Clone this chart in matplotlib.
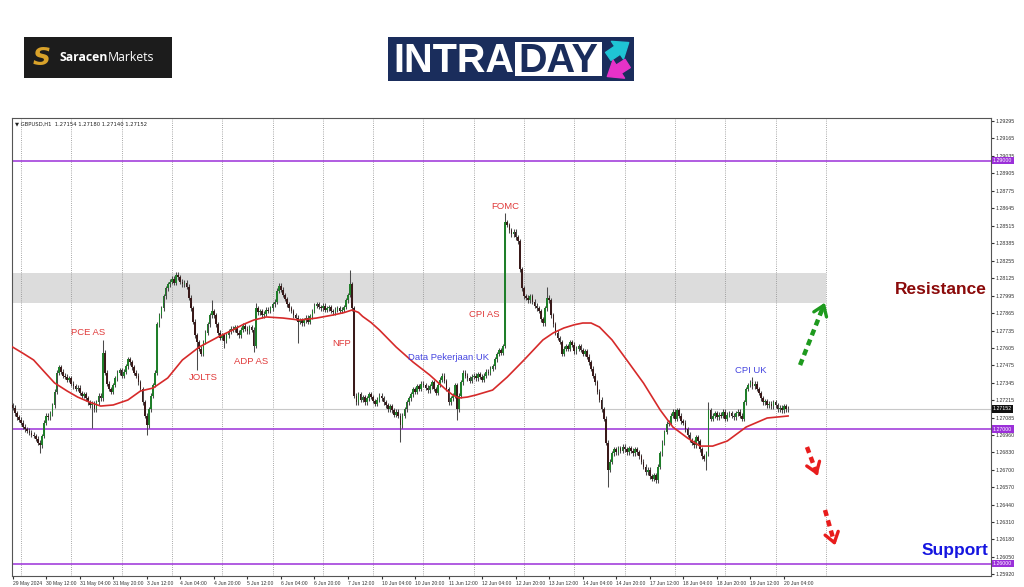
import numpy as np
import matplotlib
matplotlib.use("Agg")
import matplotlib.pyplot as plt
from matplotlib.patches import Rectangle, FancyArrowPatch

# ---- data ----
symbol_header = "\u25BC GBPUSD,H1  1.27154 1.27180 1.27140 1.27152"

# hourly closes in points above 1.26000 (1 point = 0.00001), bar 0 = 29 May 20:00
closes_pts = [
    1160, 1120, 1090, 1070,                                            # 0-3
    1050, 1020, 1000, 990, 975, 960, 950, 930, 900,                    # 4-12
    880,                                                               # 13
    950, 1050, 1100, 1090, 1120,                                       # 14-18
    1180, 1280, 1420, 1460, 1430, 1400,                                # 19-24
    1390, 1370, 1380, 1340, 1320, 1300, 1310, 1270, 1250, 1260, 1230, 1200, 1180, 1190,  # 25-38
    1150, 1200, 1250, 1230,                                            # 39-42
    1570,                                                              # 43 PCE
    1420, 1340, 1300, 1280, 1330,                                      # 44-48
    1380, 1420, 1440, 1400, 1430, 1470,                                # 49-54
    1520, 1500,                                                        # 55-56
    1460, 1420, 1400, 1350, 1300, 1200, 1100,                          # 57-63
    1030,                                                              # 64
    1150, 1250, 1330, 1420, 1780,                                      # 65-69
    1850, 1900, 1990, 2050, 2080, 2100, 2120, 2090,                    # 70-77
    2150, 2130, 2100, 2080, 2090, 2060,                                # 78-83
    1980, 1900, 1800, 1700, 1650, 1600, 1560,                          # 84-90
    1650, 1720, 1780, 1850, 1880, 1850,                                # 91-96
    1780, 1720, 1680, 1700, 1660,                                      # 97-101
    1700, 1730, 1750, 1740, 1760, 1720, 1700, 1740, 1770, 1750, 1730, 1760, 1740,  # 102-114
    1620, 1900,                                                        # 115-116 ADP
    1870, 1880, 1850, 1860, 1890, 1880, 1900, 1930, 1950,              # 117-125
    2030, 2070, 2040,                                                  # 126-128
    2000, 1970, 1930, 1900, 1880, 1850, 1830, 1800, 1810,              # 129-137
    1790, 1810, 1830, 1800, 1840, 1880,                                # 138-143
    1920, 1930, 1910, 1900, 1920, 1890, 1900, 1910, 1880, 1870, 1890, 1900, 1880, 1890, 1910,  # 144-158
    1960, 2000, 2080,                                                  # 159-161
    1900, 1250, 1200,                                                  # 162-164 NFP
    1260, 1220, 1240, 1200, 1230, 1260, 1240, 1210, 1190, 1220,
    1250, 1230, 1200, 1180, 1150, 1170, 1140, 1110, 1130, 1100,        # 165-184
    1030,                                                              # 185
    1100, 1150, 1200, 1230, 1260, 1300, 1280, 1320, 1300, 1340, 1330, 1310, 1290,  # 186-198
    1320, 1350, 1300, 1270, 1330, 1370, 1400, 1360, 1300,              # 199-207
    1200, 1230, 1250,                                                  # 208-210
    1330, 1150,                                                        # 211-212
    1250, 1350, 1420, 1400, 1380, 1360, 1390,                          # 213-219
    1400, 1380, 1410, 1390, 1370, 1400, 1430, 1420, 1450, 1470,        # 220-229
    1520, 1560, 1590, 1570,                                            # 230-233
    1620, 2540,                                                        # 234-235 CPI AS
    2520, 2480, 2450, 2470, 2430, 2400,                                # 236-241
    2190, 2050, 1990,                                                  # 242-244 FOMC
    1980, 1960, 1990, 1950, 1920, 1900, 1880,                          # 245-251
    1820, 1790,                                                        # 252-253
    1900, 1980, 1960,                                                  # 254-256
    1850, 1780, 1720, 1680, 1650,                                      # 257-261
    1560, 1600,                                                        # 262-263
    1620, 1600, 1650, 1630, 1580, 1600, 1620, 1590, 1560, 1580, 1540, 1500,  # 264-275
    1450, 1400, 1350, 1280, 1220, 1150, 1080,                          # 276-282
    900, 700,                                                          # 283-284
    760, 820, 850, 830, 860, 840, 870, 850, 830, 860, 840, 820, 850, 830, 800,  # 285-299
    760, 720, 680, 700, 650, 630, 660, 620,                            # 300-307
    720, 820, 900, 980, 1040, 1050,                                    # 308-313
    1100, 1130, 1080, 1140, 1100, 1060, 1050,                          # 314-320
    1000, 960, 920, 900, 880, 940, 910,                                # 321-327
    850, 800, 780, 820,                                                # 328-331
    1140,                                                              # 332
    1080, 1100, 1120, 1090, 1110, 1100, 1130, 1080,
    1110, 1120, 1100, 1090, 1120, 1130, 1100, 1080,                    # 333-348
    1200, 1300, 1330,                                                  # 349-351 CPI UK
    1350, 1320, 1340, 1300, 1270,                                      # 352-356
    1230, 1200, 1210, 1180, 1190,                                      # 357-361
    1170, 1200, 1180, 1150, 1160, 1140, 1170, 1150, 1152,              # 362-370
]
first_open_pts = 1180
wick_pts = 18
spike_highs = {0: 1185, 43: 1665, 78: 2170, 95: 1962, 116: 1940, 127: 2090,
               161: 2186, 235: 2610, 255: 2060, 332: 1203, 353: 1390}
spike_lows = {13: 823, 38: 1010, 64: 957, 88: 1441, 101: 1605, 115: 1575,
              136: 1642, 185: 905, 212: 1069, 284: 570, 307: 600, 331: 697}

# red moving average, sampled along the line
ma_bars = [0, 5, 10, 15, 20, 26, 31, 37, 42, 48, 55, 61, 67, 74, 81, 89, 98, 105,
           110, 115, 121, 129, 137, 145, 153, 158, 162, 165, 167, 171, 175, 183,
           191, 199, 207, 210, 213, 217, 221, 229, 236, 244, 253, 258, 263, 268,
           272, 276, 280, 286, 293, 301, 309, 315, 322, 328, 334, 341, 350, 360, 370]
ma_pts = [1612, 1565, 1516, 1430, 1345, 1285, 1240, 1200, 1173, 1181, 1218, 1285,
          1307, 1382, 1516, 1612, 1687, 1739, 1780, 1813, 1836, 1828, 1813, 1828,
          1851, 1868, 1888, 1870, 1840, 1795, 1739, 1612, 1501, 1404, 1292, 1255,
          1233, 1240, 1255, 1292, 1389, 1516, 1665, 1718, 1754, 1778, 1791, 1791,
          1761, 1665, 1516, 1344, 1143, 1017, 935, 875, 875, 913, 1017, 1084, 1099]

zone_low, zone_high = 1.2794, 1.2816
zone_end_bar = 388
levels = [1.29000, 1.27000, 1.26000]
last_price = 1.27152

ytick_values = [1.29295, 1.29165, 1.29035, 1.28905, 1.28775, 1.28645, 1.28515,
                1.28385, 1.28255, 1.28125, 1.27995, 1.27865, 1.27735, 1.27605,
                1.27475, 1.27345, 1.27215, 1.27085, 1.26960, 1.26830, 1.26700,
                1.26570, 1.26440, 1.26310, 1.26180, 1.26050, 1.25920]
xtick_labels = ["29 May 2024", "30 May 12:00", "31 May 04:00", "31 May 20:00",
                "3 Jun 12:00", "4 Jun 04:00", "4 Jun 20:00", "5 Jun 12:00",
                "6 Jun 04:00", "6 Jun 20:00", "7 Jun 12:00", "10 Jun 04:00",
                "10 Jun 20:00", "11 Jun 12:00", "12 Jun 04:00", "12 Jun 20:00",
                "13 Jun 12:00", "14 Jun 04:00", "14 Jun 20:00", "17 Jun 12:00",
                "18 Jun 04:00", "18 Jun 20:00", "19 Jun 12:00", "20 Jun 04:00"]

# event labels: (text, bar, price, colour)
events = [("PCE AS", 36, 1.27724, "#E03A3A"),
          ("JOLTS", 91, 1.27382, "#E03A3A"),
          ("ADP AS", 114, 1.27508, "#E03A3A"),
          ("NFP", 157, 1.27635, "#E03A3A"),
          ("FOMC", 235, 1.28655, "#E03A3A"),
          ("CPI AS", 225, 1.27858, "#E03A3A"),
          ("Data Pekerjaan UK", 208, 1.27538, "#4646E0"),
          ("CPI UK", 352, 1.27434, "#4646E0")]

# projection arrows: (bar0, price0, bar1, price1, colour)
arrows = [(375.7, 1.27478, 388.0, 1.27962, "#1E9A1E"),
          (379.0, 1.26868, 384.5, 1.26637, "#E81C1C"),
          (387.6, 1.26399, 392.8, 1.26116, "#E81C1C")]

# ---- figure ----
fig = plt.figure(figsize=(10.24, 5.87), dpi=100)
fig.patch.set_facecolor("white")

def fx(px):
    return px / 1024

def fy(py):
    return 1 - py / 587

ax = fig.add_axes([fx(12), fy(576), fx(991) - fx(12), fy(118) - fy(576)])
ax.set_facecolor("white")

closes = 1.26 + np.array(closes_pts) / 1e5
opens = np.r_[1.26 + first_open_pts / 1e5, closes[:-1]]
wick = wick_pts / 1e5
highs = np.maximum(opens, closes) + wick
lows = np.minimum(opens, closes) - wick
for b, v in spike_highs.items():
    highs[b] = max(highs[b], 1.26 + v / 1e5)
for b, v in spike_lows.items():
    lows[b] = min(lows[b], 1.26 + v / 1e5)
x = np.arange(len(closes))

# resistance zone
ax.fill_between([-1, zone_end_bar], zone_low, zone_high, color="#DCDCDC", lw=0, zorder=0)

# day separators
for d in range(4, zone_end_bar + 1, 24):
    ax.axvline(d, color="#8C8C8C", lw=0.6, ls=(0, (1, 1.6)), zorder=0.5)

# levels
for lv in levels:
    ax.axhline(lv, color="#9B30D9", lw=1.1, zorder=1)
ax.axhline(last_price, color="#C8C8C8", lw=0.8, zorder=0.8)

# candles
ax.vlines(x, lows, highs, color="#4A4A4A", lw=0.75, zorder=2)
body = closes - opens
body = np.where(np.abs(body) < 2.5e-5, 2.5e-5, body)
cols = np.where(closes >= opens, "#1F7F2A", "#3A1A1A")
ax.bar(x, body, bottom=opens, width=0.8, color=cols, lw=0, zorder=3)

# moving average
ax.plot(ma_bars, 1.26 + np.array(ma_pts) / 1e5, color="#D62A2A", lw=1.2,
        zorder=4, solid_joinstyle="round")

# event labels
for txt, b, p, c in events:
    ax.text(b, p, txt, color=c, fontsize=6.8, ha="center", va="center",
            family="Liberation Sans", zorder=6)

# arrows
for b0, p0, b1, p1, c in arrows:
    ax.plot([b0, b0 + (b1 - b0) * 0.85], [p0, p0 + (p1 - p0) * 0.85], color=c,
            lw=3.2, ls=(0, (1.4, 1.0)), solid_capstyle="butt", zorder=6)
    ax.annotate("", xy=(b1, p1), xytext=(b0 + (b1 - b0) * 0.75, p0 + (p1 - p0) * 0.75),
                arrowprops=dict(arrowstyle="->,head_length=0.5,head_width=0.35",
                                color=c, lw=2.4, mutation_scale=14), zorder=6)

ax.text(443, 1.28037, "Resistance", color="#8B0A0A", fontsize=12.5,
        fontweight="bold", ha="center", va="center", family="Liberation Sans", zorder=6)
ax.text(449.6, 1.26101, "Support", color="#1515E0", fontsize=12.5,
        fontweight="bold", ha="center", va="center", family="Liberation Sans", zorder=6)

ax.text(0.003, 0.993, symbol_header, transform=ax.transAxes, fontsize=3.8,
        va="top", ha="left", color="#222222")

# axes
ax.set_xlim(-0.3, 466.8)
ax.set_ylim(1.25908, 1.29317)
ax.yaxis.tick_right()
ax.set_yticks(ytick_values)
ax.set_yticklabels([f"{v:.5f}" for v in ytick_values], family="Liberation Sans")
ax.set_xticks(np.arange(0, 16 * len(xtick_labels), 16))
ax.set_xticklabels(xtick_labels, ha="left", family="Liberation Sans")
ax.tick_params(axis="y", labelsize=3.8, length=2, pad=1.5, colors="#333333")
ax.tick_params(axis="x", labelsize=3.6, length=2, pad=1.5, colors="#333333")
for s in ax.spines.values():
    s.set_color("#555555")
    s.set_linewidth(0.8)

# price tags on the right
ytr = ax.get_yaxis_transform()
for lv in levels:
    ax.text(1.002, lv, f"{lv:.5f}", transform=ytr, fontsize=3.8, color="white",
            va="center", ha="left", zorder=10, family="Liberation Sans",
            bbox=dict(boxstyle="square,pad=0.25", fc="#9B30D9", ec="none"))
ax.text(1.002, last_price, f"{last_price:.5f}", transform=ytr, fontsize=3.8,
        color="white", va="center", ha="left", zorder=10, family="Liberation Sans",
        bbox=dict(boxstyle="square,pad=0.25", fc="#111111", ec="none"))

# ---- logos ----
fig.add_artist(Rectangle((fx(24), fy(78)), fx(148), 41 / 587,
                         transform=fig.transFigure, fc="#1C1C1C", ec="none"))
fig.text(fx(42), fy(58), "S", color="#D9A22A", fontsize=18, fontweight="heavy",
         style="italic", ha="center", va="center", family="DejaVu Sans")
fig.text(fx(60), fy(57.5), "Saracen", color="white", fontsize=8.8,
         fontweight="bold", va="center", ha="left", family="Open Sans")
fig.text(fx(108), fy(57.5), "Markets", color="white", fontsize=8.8,
         va="center", ha="left", family="Open Sans")

fig.add_artist(Rectangle((fx(388), fy(81)), fx(246), 44 / 587,
                         transform=fig.transFigure, fc="#1A2D5C", ec="none"))
fig.add_artist(Rectangle((fx(515), fy(76)), fx(87), 34 / 587,
                         transform=fig.transFigure, fc="white", ec="none"))
fig.text(fx(393), fy(72), "INTRA", color="white", fontsize=28.5, fontweight="bold",
         va="baseline", ha="left", family="Liberation Sans")
fig.text(fx(558.5), fy(72), "DAY", color="#1A2D5C", fontsize=28.5, fontweight="bold",
         va="baseline", ha="center", family="Liberation Sans")
fig.add_artist(FancyArrowPatch((fx(606), fy(58)), (fx(631), fy(41)),
                               transform=fig.transFigure, color="#1FC4D4",
                               arrowstyle="simple,head_length=0.7,head_width=1.1,tail_width=0.5",
                               mutation_scale=14))
fig.add_artist(FancyArrowPatch((fx(630), fy(62)), (fx(605), fy(78)),
                               transform=fig.transFigure, color="#E632C8",
                               arrowstyle="simple,head_length=0.7,head_width=1.1,tail_width=0.5",
                               mutation_scale=14))

fig.savefig("out.png", dpi=100)
